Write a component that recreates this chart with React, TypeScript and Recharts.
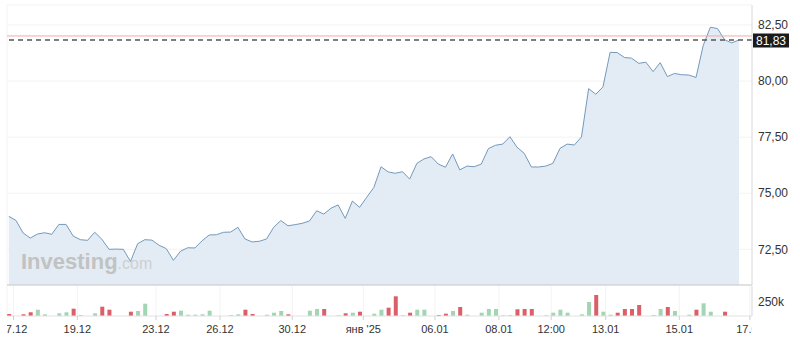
import React from 'react';
import { ComposedChart, Area, Bar, Cell, XAxis, YAxis, CartesianGrid, ReferenceLine } from 'recharts';

const prices = [
  73.97, 73.79, 73.23, 73.0, 73.18, 73.24, 73.17, 73.61, 73.61, 73.09,
  72.93, 72.9, 73.26, 72.95, 72.5, 72.51, 72.5, 71.96, 72.75, 72.93,
  72.91, 72.68, 72.53, 72.01, 72.42, 72.57, 72.56, 72.88, 73.14, 73.15,
  73.26, 73.27, 73.48, 72.96, 72.83, 72.86, 72.96, 73.48, 73.78, 73.55,
  73.6, 73.66, 73.76, 74.22, 74.07, 74.33, 74.48, 73.88, 74.65, 74.37,
  74.82, 75.26, 76.18, 75.95, 75.89, 75.96, 75.63, 76.33, 76.53, 76.63,
  76.3, 76.16, 76.75, 76.04, 76.21, 76.18, 76.3, 76.99, 77.14, 77.19,
  77.52, 77.05, 76.78, 76.17, 76.17, 76.21, 76.33, 77.0, 77.19, 77.15,
  77.51, 79.66, 79.41, 79.74, 81.28, 81.27, 81.05, 81.02, 80.79, 80.84,
  80.42, 80.82, 80.2, 80.34, 80.28, 80.27, 80.16, 81.58, 82.4, 82.34,
  81.84, 81.7, 81.83,
];

// volume in thousands
const volumes = [
  34, 0, 29, 63, 107, 29, 0, 46, 63, 124,
  17, 0, 46, 158, 107, 0, 0, 73, 85, 209,
  0, 0, 34, 73, 90, 22, 22, 29, 90, 0,
  0, 17, 29, 107, 34, 0, 22, 56, 85, 29,
  0, 0, 90, 119, 119, 0, 12, 46, 56, 73,
  0, 39, 107, 141, 335, 12, 56, 107, 107, 0,
  17, 39, 85, 153, 22, 0, 56, 119, 119, 12,
  17, 114, 119, 119, 0, 12, 56, 107, 56, 0,
  29, 238, 357, 73, 22, 56, 119, 119, 187, 0,
  17, 119, 153, 85, 0, 22, 107, 216, 73, 0,
  73, 0, 0,
];

// u = up (green), d = down (red)
const volumeDirection = [
  'd', 'u', 'd', 'd', 'u', 'u', 'u', 'u', 'u', 'd',
  'u', 'u', 'u', 'd', 'd', 'u', 'u', 'd', 'u', 'u',
  'u', 'u', 'd', 'd', 'u', 'u', 'u', 'u', 'u', 'u',
  'u', 'u', 'u', 'd', 'd', 'u', 'u', 'u', 'u', 'd',
  'u', 'u', 'u', 'u', 'd', 'u', 'u', 'd', 'u', 'd',
  'u', 'u', 'u', 'd', 'd', 'u', 'd', 'u', 'u', 'u',
  'd', 'd', 'u', 'd', 'u', 'u', 'u', 'u', 'u', 'u',
  'u', 'd', 'd', 'd', 'u', 'u', 'u', 'u', 'u', 'u',
  'u', 'u', 'd', 'u', 'u', 'd', 'd', 'd', 'd', 'u',
  'u', 'u', 'd', 'u', 'u', 'u', 'd', 'u', 'u', 'u',
  'd', 'u', 'u',
];

const xTickValues = [0.66, 9.57, 20.56, 29.5, 39.6, 49.52, 59.53, 68.47, 75.77, 83.38, 93.66, 103.53];
const xTickLabels = ['17.12', '19.12', '23.12', '26.12', '30.12', "янв '25", '06.01', '08.01', '12:00', '13.01', '15.01', '17.01'];
const priceTicks = [72.5, 75, 77.5, 80, 82.5];
const volumeTicks = [250];
const lastPrice = 81.83;
const alertLevel = 82.01;

const data = prices.map((p, i) => ({ i, price: p, volume: volumes[i], dir: volumeDirection[i] }));

const W = 800;
const PLOT_LEFT = 7;
const AXIS_W = 48;
const X_DOMAIN: [number, number] = [-0.25, 103.82];
const PRICE_DOMAIN: [number, number] = [70.91, 83.39];
const VOLUME_DOMAIN: [number, number] = [0, 510];

const fmtPrice = (v: number) => v.toFixed(2).replace('.', ',');

const XTick = (props: any) => {
  const { x, y, payload, index } = props;
  const id = `xclip-${index}`;
  const k = xTickValues.indexOf(payload.value);
  const label = k >= 0 ? xTickLabels[k] : '';
  return (
    <g>
      <defs>
        <clipPath id={id}>
          <rect x={PLOT_LEFT} y={y - 12} width={W - AXIS_W - PLOT_LEFT} height={32} />
        </clipPath>
      </defs>
      <text x={x} y={y} dy="0.71em" textAnchor="middle" fontSize={11} fill="#333" clipPath={`url(#${id})`}>
        {label}
      </text>
    </g>
  );
};

const PriceTag = (props: any) => {
  const vb = props.viewBox || {};
  const x = (vb.x || 0) + (vb.width || 0);
  const y = vb.y || 0;
  return (
    <g>
      <rect x={x + 1} y={y - 6.5} width={36} height={14} fill="#1b1b1b" />
      <text x={x + 19} y={y + 0.5} dy="0.355em" textAnchor="middle" fontSize={12} fill="#fff">
        {fmtPrice(lastPrice)}
      </text>
    </g>
  );
};

export default function App() {
  return (
    <div
      style={{
        position: 'absolute',
        left: 0,
        top: 0,
        width: 800,
        height: 344,
        background: '#fff',
        overflow: 'hidden',
        fontFamily: 'Arial, "Liberation Sans", sans-serif',
      }}
    >
      <div style={{ position: 'absolute', left: 0, top: 0 }}>
        <ComposedChart width={800} height={286} data={data} margin={{ top: 5, right: 0, bottom: 0, left: PLOT_LEFT }}>
          <CartesianGrid stroke="#f3f3f3" />
          <XAxis
            dataKey="i"
            type="number"
            domain={X_DOMAIN}
            ticks={xTickValues}
            allowDataOverflow
            tick={false}
            tickLine={false}
            height={1}
            axisLine={{ stroke: '#c9c9c9' }}
            interval={0}
          />
          <YAxis
            orientation="right"
            width={AXIS_W}
            domain={PRICE_DOMAIN}
            ticks={priceTicks}
            allowDataOverflow
            tickFormatter={fmtPrice}
            tickSize={0}
            tickLine={false}
            tickMargin={6}
            axisLine={{ stroke: '#dedede' }}
            tick={{ fill: '#333', fontSize: 12 }}
            interval={0}
          />
          <Area
            type="linear"
            dataKey="price"
            stroke="#7499bb"
            strokeWidth={1}
            fill="#e3ecf5"
            fillOpacity={1}
            isAnimationActive={false}
            dot={false}
            activeDot={false}
          />
          <ReferenceLine y={alertLevel} stroke="#f2a9a9" strokeWidth={1} />
          <ReferenceLine y={lastPrice} stroke="#555" strokeDasharray="5 4" strokeWidth={1.5} label={PriceTag} />
        </ComposedChart>
      </div>
      <div style={{ position: 'absolute', left: 0, top: 286 }}>
        <ComposedChart width={800} height={58} data={data} margin={{ top: 0, right: 0, bottom: 0, left: PLOT_LEFT }}>
          <CartesianGrid stroke="#f3f3f3" horizontal={false} />
          <XAxis
            dataKey="i"
            type="number"
            domain={X_DOMAIN}
            ticks={xTickValues}
            allowDataOverflow
            height={28}
            tickSize={4}
            tickMargin={5}
            tickLine={{ stroke: '#cfcfcf' }}
            axisLine={{ stroke: '#e2e2e2' }}
            tick={XTick}
            interval={0}
          />
          <YAxis
            orientation="right"
            width={AXIS_W}
            domain={VOLUME_DOMAIN}
            ticks={volumeTicks}
            allowDataOverflow
            tickFormatter={(v: number) => `${v}k`}
            tickSize={0}
            tickLine={false}
            tickMargin={6}
            axisLine={{ stroke: '#dedede' }}
            tick={{ fill: '#333', fontSize: 12 }}
            interval={0}
          />
          <Bar dataKey="volume" barSize={4} isAnimationActive={false}>
            {data.map((d) => (
              <Cell key={d.i} fill={d.dir === 'd' ? '#db5f69' : '#a2d5b3'} />
            ))}
          </Bar>
        </ComposedChart>
      </div>
      <svg width={800} height={344} style={{ position: 'absolute', left: 0, top: 0, pointerEvents: 'none' }}>
        <text x={21} y={269} fontSize={22} fontWeight="bold" fill="#c2c2c2">
          Investing
          <tspan fontWeight="normal" fontSize={16} fill="#cfcfcf">.com</tspan>
        </text>
      </svg>
    </div>
  );
}
